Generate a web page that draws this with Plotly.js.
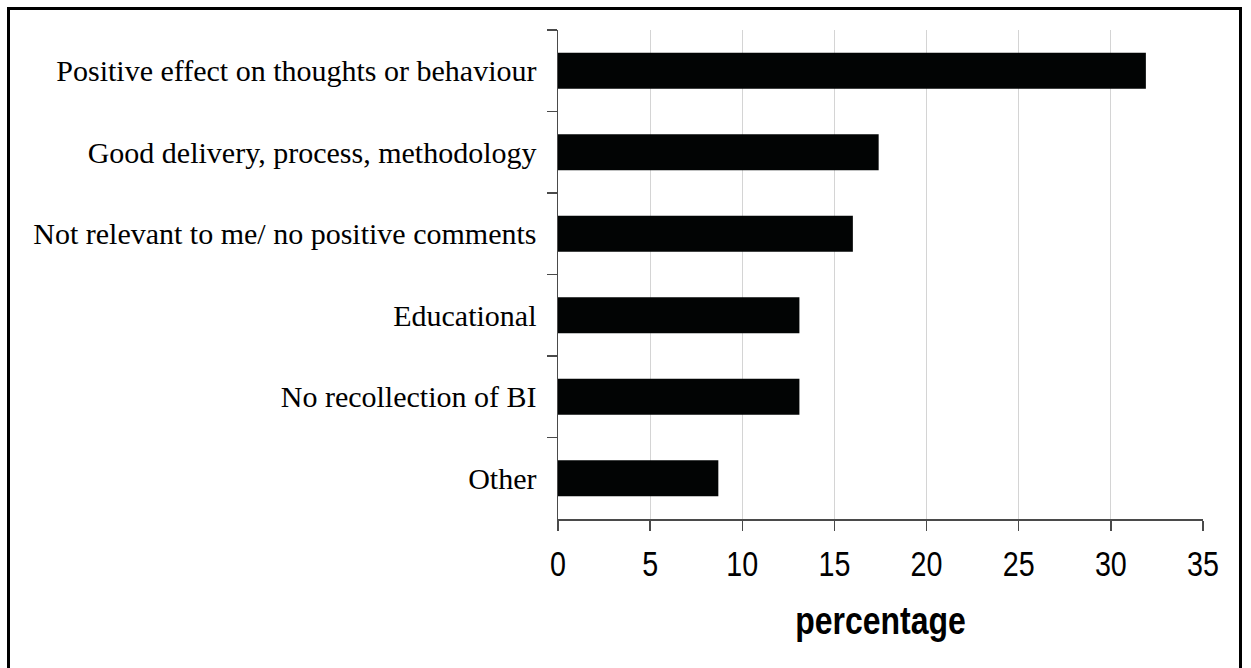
<!DOCTYPE html>
<html>
<head>
<meta charset="utf-8">
<script src="https://cdn.plot.ly/plotly-3.0.1.min.js"></script>
<style>
  html, body { margin: 0; padding: 0; background: #fff; overflow: hidden; }
  #chart { position: absolute; left: 0; top: 0; width: 1251px; height: 668px; }
  #frame {
    position: absolute; left: 7px; top: 7px; width: 1235px; height: 700px;
    border: 3px solid #000; box-sizing: border-box; pointer-events: none;
  }
</style>
</head>
<body>
<div id="chart"></div>
<div id="frame"></div>
<script>
// Responses, listed top to bottom as drawn
const categories = [
  "Positive effect on thoughts or behaviour",
  "Good delivery, process, methodology",
  "Not relevant to me/ no positive comments",
  "Educational",
  "No recollection of BI",
  "Other"
];
// Share of responses (%)
const percentages = [31.9, 17.4, 16.0, 13.1, 13.1, 8.7];
// Horizontal axis ticks
const xTickValues = [0, 5, 10, 15, 20, 25, 30, 35];
const xAxisTitle = "percentage";

const sansFamily = "Liberation Sans, Arial, sans-serif";
const NARROW = 0.82; // horizontal squeeze giving a narrow sans look

const trace = {
  type: "bar",
  orientation: "h",
  x: percentages,
  y: categories,
  marker: { color: "#020404", line: { width: 0 } },
  hoverinfo: "x+y"
};

const layout = {
  width: 1251,
  height: 668,
  margin: { l: 558, r: 48, t: 30, b: 149, pad: 0 },
  paper_bgcolor: "rgba(0,0,0,0)",
  plot_bgcolor: "rgba(0,0,0,0)",
  showlegend: false,
  bargap: 0.56,
  xaxis: {
    range: [0, 35],
    tickvals: xTickValues,
    ticktext: xTickValues.map(String),
    showgrid: true,
    gridcolor: "#d4d4d4",
    gridwidth: 1,
    zeroline: false,
    showline: true,
    linecolor: "#4a4a4a",
    linewidth: 1.5,
    ticks: "outside",
    ticklen: 10,
    tickwidth: 1.5,
    tickcolor: "#4a4a4a",
    ticklabelstandoff: 4,
    tickfont: { family: sansFamily, size: 35, color: "#000" },
    title: {
      text: xAxisTitle,
      standoff: 24,
      font: { family: sansFamily, size: 39, color: "#000", weight: "bold" }
    }
  },
  yaxis: {
    type: "category",
    autorange: "reversed",
    tickson: "boundaries",
    showgrid: false,
    zeroline: false,
    showline: true,
    linecolor: "#4a4a4a",
    linewidth: 1.5,
    ticks: "outside",
    ticklen: 10,
    tickwidth: 1.5,
    tickcolor: "#4a4a4a",
    ticklabelstandoff: 14,
    tickfont: { family: "Liberation Serif, Times New Roman, serif", size: 30, color: "#000" }
  }
};

// Squeeze the sans-serif texts horizontally around their anchor
function narrowText(el) {
  const x = parseFloat(el.getAttribute("x")) || 0;
  const prev = el.getAttribute("transform") || "";
  el.setAttribute("transform",
    prev + " translate(" + x + ",0) scale(" + NARROW + ",1) translate(" + (-x) + ",0)");
}

Plotly.newPlot("chart", [trace], layout, { displayModeBar: false, staticPlot: true })
  .then(function (gd) {
    gd.querySelectorAll(".xtick text").forEach(narrowText);
    gd.querySelectorAll(".xtitle").forEach(narrowText);
  });
</script>
</body>
</html>
